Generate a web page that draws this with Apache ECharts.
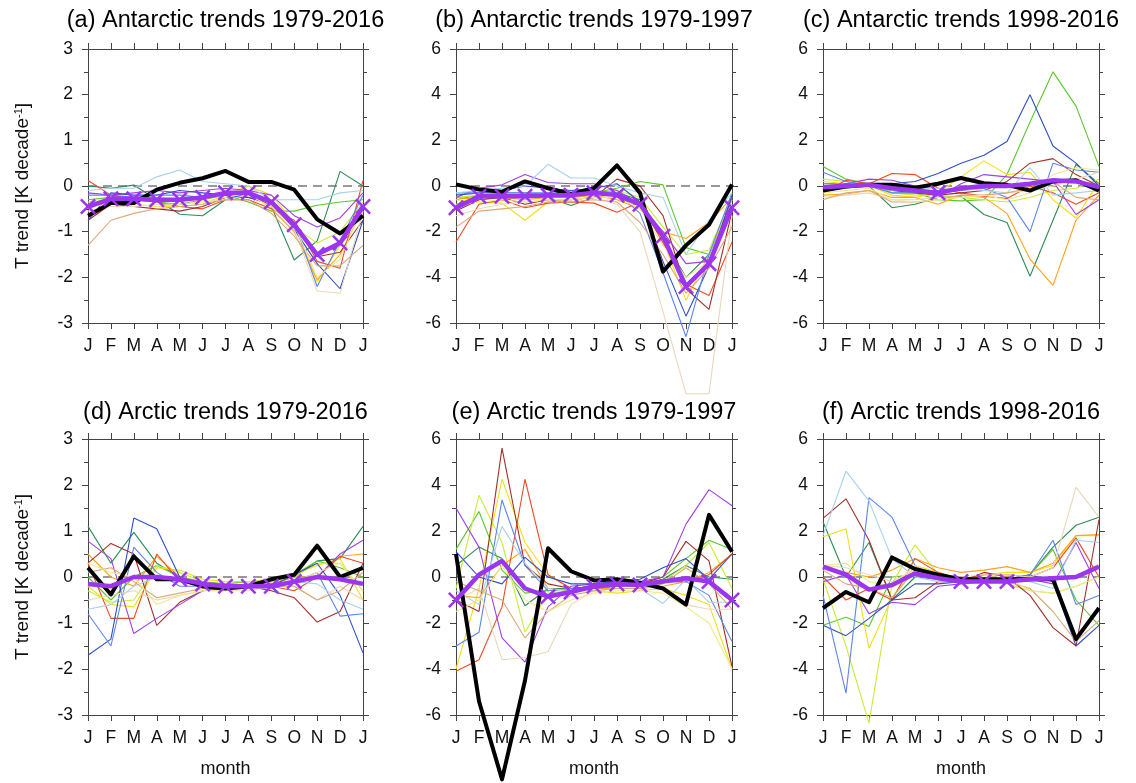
<!DOCTYPE html>
<html><head><meta charset="utf-8">
<script src="https://cdn.jsdelivr.net/npm/echarts@6/dist/echarts.min.js"></script>
<style>html,body{margin:0;padding:0;background:#fff}#c{width:1136px;height:783px}</style>
</head><body><div id="c"></div>
<script>
// ---------- tick labels / categories ----------
const monthLabels = ['J','F','M','A','M','J','J','A','S','O','N','D','J'];
const yTicks3 = [-3,-2,-1,0,1,2,3];
const yTicks6 = [-6,-4,-2,0,2,4,6];
const panelTitles = ['(a) Antarctic trends 1979-2016','(b) Antarctic trends 1979-1997','(c) Antarctic trends 1998-2016',
                     '(d) Arctic trends 1979-2016','(e) Arctic trends 1979-1997','(f) Arctic trends 1998-2016'];

// ---------- (a) Antarctic 1979-2016 ----------
const obsA = [-0.65,-0.37,-0.37,-0.08,0.07,0.17,0.33,0.09,0.09,-0.08,-0.73,-1.04,-0.65];
const mmmA = [-0.45,-0.28,-0.28,-0.3,-0.3,-0.25,-0.15,-0.15,-0.35,-0.85,-1.5,-1.25,-0.45];
const sigA = [1,1,1,1,1,1,1,1,1,1,1,1,1];
const modelsA = [
 [0.0,-0.05,0.02,-0.3,-0.62,-0.65,-0.3,-0.15,-0.45,-1.62,-1.2,0.32,0.0],
 [-0.3,-0.25,-0.3,-0.35,-0.4,-0.3,-0.2,-0.35,-0.55,-0.55,-0.42,-0.35,-0.3],
 [-0.35,-0.3,-0.25,-0.25,-0.3,-0.25,-0.15,-0.2,-0.45,-0.9,-1.25,-1.0,-0.35],
 [-0.4,-0.35,-0.4,-0.45,-0.45,-0.4,-0.2,0.0,-0.2,-0.8,-2.1,-1.3,-0.4],
 [-0.5,-0.3,-0.3,-0.35,-0.3,-0.3,-0.15,-0.1,-0.5,-1.0,-2.05,-1.5,-0.5],
 [0.12,-0.2,-0.3,-0.35,-0.45,-0.5,-0.3,-0.3,-0.5,-0.75,-1.65,-1.8,0.12],
 [-0.75,-0.4,-0.45,-0.5,-0.55,-0.45,-0.25,-0.25,-0.4,-0.9,-1.55,-1.45,-0.75],
 [-0.15,-0.2,-0.15,-0.1,-0.15,-0.1,-0.05,-0.1,-0.2,-0.65,-0.9,-0.7,-0.15],
 [-0.75,-0.15,-0.2,-0.2,-0.1,-0.15,-0.2,-0.25,-0.35,-0.95,-1.7,-2.25,-0.75],
 [-0.2,-0.2,-0.25,-0.2,-0.2,-0.25,-0.15,-0.2,-0.3,-0.8,-2.2,-1.2,-0.2],
 [-0.1,-0.05,-0.05,0.2,0.35,0.1,0.05,0.0,-0.3,-0.3,-0.3,-0.15,-0.1],
 [-0.55,-0.45,-0.45,-0.4,-0.4,-0.35,-0.3,-0.2,-0.45,-0.95,-2.3,-2.35,-0.55],
 [-1.3,-0.75,-0.6,-0.5,-0.45,-0.4,-0.3,-0.3,-0.6,-1.1,-1.75,-1.75,-1.3],
 [-0.45,-0.4,-0.4,-0.45,-0.4,-0.35,-0.25,-0.15,-0.4,-0.85,-2.0,-1.6,-0.45]
];

// ---------- (b) Antarctic 1979-1997 ----------
const obsB = [0.07,-0.15,-0.25,0.2,-0.1,-0.35,-0.1,0.9,-0.3,-3.75,-2.6,-1.7,0.07];
const mmmB = [-0.95,-0.45,-0.45,-0.45,-0.4,-0.4,-0.3,-0.4,-0.8,-2.2,-4.4,-3.4,-0.95];
const sigB = [1,1,1,1,1,1,1,1,1,1,1,1,1];
const modelsB = [
 [-0.8,-0.5,-0.4,-0.45,-0.5,-0.85,-0.5,-0.3,-0.6,-2.3,-4.0,-3.0,-0.8],
 [-0.6,-0.4,-0.3,-0.3,-0.4,-0.5,-0.3,-0.1,0.2,0.05,-2.7,-3.0,-0.6],
 [-0.5,-0.4,-0.35,-0.4,-0.35,-0.5,-0.4,-0.2,-0.5,-1.8,-3.0,-2.8,-0.5],
 [-0.6,-0.7,-0.75,-1.5,-0.7,-0.6,-0.5,-0.5,-0.9,-2.4,-5.0,-3.0,-0.6],
 [-0.5,-0.6,-0.5,-0.6,-0.5,-0.5,-0.4,-0.6,-1.0,-2.0,-2.3,-1.6,-0.5],
 [-2.45,-0.8,-0.6,-0.95,-0.75,-0.7,-0.75,-1.15,-0.7,-2.5,-4.3,-4.8,-2.45],
 [-1.1,-0.6,-0.5,-0.8,-0.6,-0.6,-0.5,0.3,0.0,-1.3,-4.5,-5.4,-1.1],
 [-0.5,-0.1,0.05,0.5,0.15,0.1,0.1,-0.2,-0.8,-2.0,-3.4,-3.3,-0.5],
 [-0.4,-0.3,-0.2,0.0,-0.1,-0.2,-0.1,0.1,-0.7,-3.3,-5.7,-3.5,-0.4],
 [-0.3,-0.3,-0.3,-0.3,-0.3,-0.3,-0.2,-0.3,-1.2,-3.8,-6.6,-3.0,-0.3],
 [-0.3,-0.2,-0.1,0.0,0.95,0.35,0.35,0.0,-0.3,-0.5,-3.0,-1.5,-0.3],
 [-1.3,-1.0,-0.8,-0.7,-0.6,-0.6,-0.5,-0.8,-2.0,-5.5,-9.1,-9.1,-1.3],
 [-1.8,-1.1,-1.0,-0.9,-0.7,-0.7,-0.6,-0.7,-1.6,-3.0,-4.7,-3.6,-1.8],
 [-0.8,-0.7,-0.6,-0.7,-0.6,-0.6,-0.5,-0.5,-1.0,-2.6,-4.0,-3.3,-0.8]
];

// ---------- (c) Antarctic 1998-2016 ----------
const obsC = [-0.2,-0.02,0.05,0.05,-0.08,0.1,0.35,0.12,0.05,-0.2,0.2,0.25,-0.2];
const mmmC = [-0.05,0.0,0.05,-0.1,-0.2,-0.3,-0.1,0.0,0.0,0.1,0.25,0.2,-0.05];
const sigC = [0,0,0,0,0,1,0,0,0,0,0,0,0];
const modelsC = [
 [0.1,0.1,0.0,-0.95,-0.8,-0.5,-0.45,-1.25,-1.6,-3.95,-1.5,0.95,0.1],
 [0.85,0.3,0.1,-0.3,-0.3,-0.6,-0.65,-0.6,0.5,2.8,5.0,3.5,0.85],
 [0.3,0.2,0.0,-0.3,-0.4,-0.4,-0.5,-0.6,-0.7,-0.5,-0.2,-0.1,0.3],
 [0.2,0.1,0.0,-0.4,-0.5,-0.3,0.4,1.1,0.5,0.6,-0.6,-1.4,0.2],
 [-0.4,-0.35,-0.2,-0.5,-0.5,-0.8,-0.4,-0.5,-1.2,-3.2,-4.35,-1.5,-0.4],
 [-0.3,0.25,0.1,0.55,0.5,-0.1,-0.3,-0.45,-0.55,0.0,-0.3,-0.8,-0.3],
 [0.0,0.1,0.0,-0.2,-0.3,-0.4,-0.3,-0.2,0.2,1.0,1.2,0.5,0.0],
 [-0.3,0.1,0.3,0.25,0.0,-0.5,0.1,0.5,0.4,0.3,0.2,-1.25,-0.6],
 [0.0,0.0,0.1,0.1,0.2,0.55,1.0,1.35,1.95,4.0,1.75,1.0,0.0],
 [0.6,0.2,0.0,-0.3,-0.3,-0.2,-0.2,-0.1,-0.5,-2.0,1.0,0.7,0.6],
 [-0.2,-0.1,0.0,-0.2,-0.1,-0.1,-0.1,-0.2,-0.3,0.8,-0.4,-0.3,-0.2],
 [-0.5,-0.4,-0.3,-0.6,-0.6,-0.5,-0.5,-0.4,-0.3,-0.2,0.0,0.3,0.6],
 [-0.6,-0.3,-0.2,-0.7,-0.7,-0.6,-0.4,-0.4,-0.3,-0.1,0.2,-0.5,-0.6],
 [-0.3,-0.2,-0.1,-0.6,-0.7,-0.6,-0.5,-0.4,-0.6,-0.3,0.5,0.8,0.7]
];

// ---------- (d) Arctic 1979-2016 ----------
const obsD = [0.2,-0.38,0.45,-0.05,-0.05,-0.2,-0.25,-0.2,-0.05,0.05,0.68,0.0,0.2];
const mmmD = [-0.15,-0.2,0.0,0.0,-0.05,-0.15,-0.2,-0.2,-0.2,-0.1,0.0,-0.05,-0.15];
const sigD = [0,0,0,0,1,1,1,1,1,1,0,0,0];
const modelsD = [
 [1.1,0.3,0.97,0.3,0.0,-0.15,-0.2,-0.2,-0.15,0.0,0.35,0.4,1.1],
 [0.0,-0.5,0.0,0.25,0.0,-0.1,-0.15,-0.1,-0.1,0.05,0.35,0.2,0.0],
 [-0.3,-0.55,-0.5,0.25,0.1,-0.1,-0.2,-0.15,-0.1,0.0,0.3,0.3,-0.3],
 [-0.2,-0.6,-0.65,0.2,0.15,-0.05,-0.1,-0.1,-0.05,0.05,0.25,0.4,-0.5],
 [0.5,0.0,-0.2,0.45,0.0,-0.15,-0.2,-0.15,-0.15,0.0,0.0,0.45,0.5],
 [0.3,-0.9,-0.9,0.5,-0.1,-0.2,-0.25,-0.2,-0.2,-0.3,0.0,0.45,0.3],
 [0.3,0.73,0.5,-1.05,-0.55,-0.3,-0.25,-0.2,-0.3,-0.45,-0.98,-0.75,0.3],
 [0.78,0.4,-1.23,-0.9,-0.6,-0.3,-0.2,-0.2,-0.2,-0.1,0.0,0.5,0.8],
 [-1.7,-1.35,1.28,1.05,0.0,-0.2,-0.25,-0.2,-0.2,0.05,0.3,-0.4,-1.65],
 [-0.8,-1.5,0.65,0.1,-0.2,-0.2,-0.25,-0.2,-0.15,-0.1,0.1,-0.85,-0.8],
 [-0.7,-0.6,-0.2,0.0,-0.1,-0.2,-0.2,-0.25,-0.2,-0.1,-0.15,-0.5,-0.7],
 [-0.5,-0.4,-0.3,-0.5,-0.4,-0.3,-0.3,-0.3,-0.2,-0.2,-0.5,-0.2,-0.5],
 [0.1,0.2,-0.1,-0.45,-0.35,-0.25,-0.25,-0.2,-0.2,-0.2,-0.5,-0.3,0.1],
 [0.3,0.1,0.0,-0.6,-0.4,-0.3,-0.3,-0.25,-0.2,-0.1,0.1,0.3,-0.3]
];

// ---------- (e) Arctic 1979-1997 ----------
const obsE = [1.0,-5.4,-8.8,-4.5,1.25,0.25,-0.15,-0.1,-0.25,-0.5,-1.2,2.7,1.1];
const mmmE = [-1.0,0.1,0.7,-0.5,-0.85,-0.65,-0.4,-0.3,-0.35,-0.2,-0.05,-0.2,-1.0];
const sigE = [1,0,0,0,1,1,1,1,1,0,0,1,1];
const modelsE = [
 [0.5,1.3,0.8,-1.25,-0.5,-0.5,-0.4,-0.3,-0.3,-0.1,0.5,0.0,-0.1],
 [1.2,2.85,0.3,-0.7,-0.6,-0.5,-0.4,-0.3,-0.3,0.0,0.8,1.6,1.2],
 [-0.5,3.55,1.5,-2.4,-0.7,-0.6,-0.5,-0.4,-0.3,-0.2,0.5,1.5,-0.5],
 [-4.0,-0.5,4.25,1.5,0.1,-0.5,-0.6,-0.7,-0.6,-0.5,-0.8,-1.2,-4.0],
 [-0.8,-0.9,0.5,1.2,-0.5,-0.6,-0.5,-0.5,-0.5,-0.4,-0.2,0.2,1.0],
 [-4.1,-3.6,-1.3,4.25,0.1,-0.5,-0.5,-0.4,-0.4,-0.2,-0.2,0.1,1.0],
 [-1.0,-1.5,5.6,0.5,-0.3,-0.5,-0.4,-0.3,-0.3,0.0,1.55,0.7,-3.9],
 [3.0,1.3,-2.65,-3.7,-1.3,-0.4,-0.3,-0.2,-0.2,0.0,2.3,3.8,3.1],
 [1.1,0.0,-0.3,0.85,0.0,-0.3,-0.3,-0.2,-0.1,0.4,0.8,-0.1,1.0],
 [-3.0,-2.4,3.35,0.5,-0.6,-0.5,-0.5,-0.4,-0.4,-0.2,-0.2,-0.8,-2.8],
 [-0.6,-1.2,2.2,0.6,-0.5,-0.6,-0.6,-0.5,-0.5,-1.15,-0.1,-1.1,-1.1],
 [-1.0,-0.5,-3.6,-3.5,-3.25,-1.2,-0.6,-0.5,-0.5,-0.4,-1.2,-1.4,-1.4],
 [-0.2,-0.6,-1.0,-2.65,-1.5,-0.8,-0.6,-0.5,-0.5,-0.3,0.4,-0.3,-1.4],
 [-1.5,-1.0,0.5,-1.0,-1.5,-1.0,-0.7,-0.6,-0.6,-0.7,-1.3,-2.0,-4.0]
];

// ---------- (f) Arctic 1998-2016 ----------
const obsF = [-1.35,-0.65,-1.1,0.85,0.35,0.1,-0.1,-0.1,-0.1,-0.1,-0.1,-2.7,-1.35];
const mmmF = [0.45,0.1,-0.55,-0.35,0.15,-0.05,-0.2,-0.2,-0.2,-0.1,-0.05,0.0,0.45];
const sigF = [0,0,0,0,0,0,1,1,1,0,0,0,0];
const modelsF = [
 [2.4,0.0,1.5,-1.0,0.0,-0.1,-0.2,-0.1,-0.2,0.1,1.3,2.25,2.6],
 [-2.1,-1.75,-2.15,0.0,0.1,-0.1,-0.2,-0.1,-0.1,0.1,1.2,-1.0,-2.1],
 [-0.1,-3.0,-6.35,-0.3,1.4,0.1,-0.2,-0.1,-0.3,-0.6,-0.7,-0.4,0.0],
 [1.75,2.1,-3.1,-0.9,0.5,0.2,-0.1,0.1,0.2,0.2,0.5,1.8,1.8],
 [0.4,0.2,0.0,0.3,0.8,0.4,0.2,0.3,0.45,0.2,0.6,1.8,1.85],
 [0.0,-1.0,-0.5,-1.0,0.8,0.2,-0.1,0.1,0.1,0.0,0.4,1.7,0.0],
 [2.55,3.4,1.6,-1.0,-0.9,-0.2,-0.2,0.2,0.0,-0.8,-2.2,-3.0,2.5],
 [-0.2,0.1,-1.6,-1.1,-1.2,-0.4,-0.3,-0.2,-0.2,-0.1,-0.3,1.5,-0.5],
 [-2.1,-2.55,-1.8,-1.0,-0.3,-0.3,-0.2,-0.1,-0.1,0.1,-0.2,-3.0,-2.1],
 [-0.8,-5.05,3.45,2.6,0.5,0.0,-0.2,-0.1,-0.1,0.1,1.6,-1.2,-0.8],
 [1.8,4.6,3.3,0.8,0.0,-0.2,-0.2,-0.1,-0.1,-0.2,-0.5,1.6,1.5],
 [0.5,0.4,0.1,-0.2,0.3,0.1,0.0,0.1,0.1,0.0,0.4,3.9,2.6],
 [0.3,-0.3,-0.5,-0.9,0.3,0.0,-0.2,-0.2,-0.2,-0.5,-1.5,-2.8,-1.9],
 [0.5,0.6,-0.2,-0.4,0.5,0.1,-0.1,0.0,0.0,-0.6,-0.7,-0.4,0.0]
];

// ---------- styling ----------
const modelColors = ['#2e8b57','#5cc72e','#c8ec3a','#f2df1a','#ffa31a','#ee4a22','#a0302a',
                     '#a040e8','#2f4fc8','#5c86ee','#a6d2ea','#e8d8b8','#dba878','#eee98a'];
const FONT = 'Liberation Sans, Arial, Helvetica, sans-serif';
const MMM_COLOR = '#9b35f0';
const X_PATH = 'path://M0,1.1L1.1,0L5,3.9L8.9,0L10,1.1L6.1,5L10,8.9L8.9,10L5,6.1L1.1,10L0,8.9L3.9,5Z';

const panels = [
  {obs: obsA, mmm: mmmA, sig: sigA, models: modelsA, ticks: yTicks3},
  {obs: obsB, mmm: mmmB, sig: sigB, models: modelsB, ticks: yTicks6},
  {obs: obsC, mmm: mmmC, sig: sigC, models: modelsC, ticks: yTicks6},
  {obs: obsD, mmm: mmmD, sig: sigD, models: modelsD, ticks: yTicks3},
  {obs: obsE, mmm: mmmE, sig: sigE, models: modelsE, ticks: yTicks6},
  {obs: obsF, mmm: mmmF, sig: sigF, models: modelsF, ticks: yTicks6}
];
const cols = [{left: 88, width: 275}, {left: 456, width: 276}, {left: 823, width: 276}];
const rows = [{top: 49, height: 274}, {top: 439, height: 276}];

const measureCtx = document.createElement('canvas').getContext('2d');
function textWidth(t, size) { measureCtx.font = size + 'px ' + FONT; return measureCtx.measureText(t).width; }

const grids = [], xAxes = [], yAxes = [], series = [], titles = [];
const axisColor = '#444';
const TITLE_SIZE = 23.5;

panels.forEach((p, gi) => {
  const r = Math.floor(gi / 3), c = gi % 3;
  const g = {left: cols[c].left, width: cols[c].width, top: rows[r].top, height: rows[r].height};
  grids.push(g);
  const cx = g.left + g.width / 2;
  titles.push({text: panelTitles[gi], left: cx - textWidth(panelTitles[gi], TITLE_SIZE) / 2,
    top: r === 0 ? 9 : 401, padding: 0,
    textStyle: {fontSize: TITLE_SIZE, fontWeight: 'normal', color: '#000', fontFamily: FONT}});
  const ymin = p.ticks[0], ymax = p.ticks[p.ticks.length - 1], yint = p.ticks[1] - p.ticks[0];
  const baseX = {gridIndex: gi, type: 'value', min: 0, max: monthLabels.length - 1, interval: 1,
    axisLine: {show: true, onZero: false, lineStyle: {color: axisColor, width: 1}},
    axisTick: {show: true, length: 6, lineStyle: {color: axisColor, width: 1}},
    splitLine: {show: false}};
  xAxes.push(Object.assign({}, baseX, {position: 'bottom',
    axisLabel: {show: true, margin: 14, fontSize: 17.5, color: '#111', fontFamily: FONT,
      formatter: v => monthLabels[v]},
    name: r === 1 ? 'month' : '', nameLocation: 'middle', nameGap: 45,
    nameTextStyle: {fontSize: 18, color: '#111', fontFamily: FONT}}));
  xAxes.push(Object.assign({}, baseX, {position: 'top', axisLabel: {show: false}}));
  const baseY = {gridIndex: gi, type: 'value', min: ymin, max: ymax, interval: yint,
    axisLine: {show: true, onZero: false, lineStyle: {color: axisColor, width: 1}},
    axisTick: {show: true, length: 6, lineStyle: {color: axisColor, width: 1}},
    minorTick: {show: true, splitNumber: 2, length: 4, lineStyle: {color: axisColor, width: 1}},
    splitLine: {show: false}, minorSplitLine: {show: false}};
  yAxes.push(Object.assign({}, baseY, {position: 'left',
    axisLabel: {show: true, margin: 15, fontSize: 17.5, color: '#111', fontFamily: FONT},
    name: c === 0 ? 'T trend [K decade{s|-1}]' : '', nameLocation: 'middle', nameGap: 56, nameRotate: 90,
    nameTextStyle: {fontSize: 19, color: '#111', fontFamily: FONT,
      rich: {s: {fontSize: 11, verticalAlign: 'top', fontFamily: FONT, color: '#111', lineHeight: 19}}}}));
  yAxes.push(Object.assign({}, baseY, {position: 'right', axisLabel: {show: false}}));

  const xi = gi * 2, yi = gi * 2;
  // zero reference line
  series.push({type: 'line', xAxisIndex: xi, yAxisIndex: yi, data: [[0, 0], [monthLabels.length - 1, 0]],
    symbol: 'none', silent: true, z: 1, lineStyle: {color: '#333', width: 1, type: [9, 6]}});
  p.models.forEach((m, k) => {
    series.push({type: 'line', xAxisIndex: xi, yAxisIndex: yi, data: m.map((v, i) => [i, v]),
      symbol: 'none', clip: false, silent: true, z: 2,
      lineStyle: {color: modelColors[k], width: 1.1}});
  });
  series.push({type: 'line', xAxisIndex: xi, yAxisIndex: yi, data: p.obs.map((v, i) => [i, v]),
    symbol: 'none', clip: false, silent: true, z: 3, lineStyle: {color: '#000', width: 4, join: 'round'}});
  series.push({type: 'line', xAxisIndex: xi, yAxisIndex: yi,
    data: p.mmm.map((v, i) => ({value: [i, v], symbol: p.sig[i] ? X_PATH : 'none'})),
    symbolSize: 16, showSymbol: true, showAllSymbol: true, clip: false, silent: true, z: 4,
    itemStyle: {color: MMM_COLOR}, lineStyle: {color: MMM_COLOR, width: 4.5}});
});

const chart = echarts.init(document.getElementById('c'), null, {renderer: 'canvas'});
chart.setOption({animation: false, backgroundColor: '#fff', title: titles, grid: grids,
  xAxis: xAxes, yAxis: yAxes, series: series});
</script></body></html>
